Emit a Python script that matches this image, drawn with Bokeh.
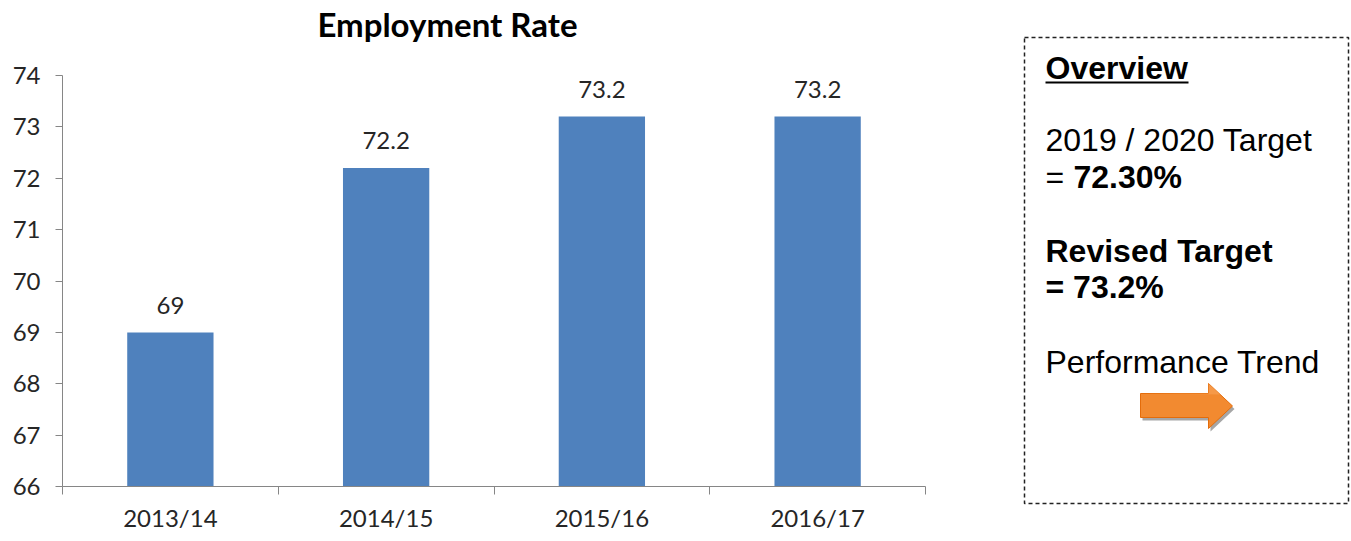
import numpy as np
from bokeh.plotting import figure
from bokeh.models import Range1d, FixedTicker, ColumnDataSource
from bokeh.layouts import row, column
from bokeh.core.properties import value
from bokeh.embed import file_html
from bokeh.resources import INLINE

# ---- data ----
categories = ["2013/14", "2014/15", "2015/16", "2016/17"]
rates = [69, 72.2, 73.2, 73.2]
rate_labels = ["69", "72.2", "73.2", "73.2"]
y_ticks = [66, 67, 68, 69, 70, 71, 72, 73, 74]
title_text = "Employment Rate"

overview_title = "Overview"
target_line = "2019 / 2020 Target"
target_value = "72.30%"
revised_line = "Revised Target"
revised_value = "= 73.2%"
trend_line = "Performance Trend"

BAR = "#4F81BD"
AXIS = "#868686"
TXT = "#262626"
CHART_FONT = "Lato"
BOX_FONT = "Liberation Sans"

H = 535      # total height
HT = 45      # title strip height
W1 = 1000    # chart width
W2 = 350     # overview width

# ---- title strip ----
p0 = figure(width=W1, height=HT, output_backend="svg", toolbar_location=None,
            x_range=Range1d(0, W1), y_range=Range1d(HT, 0),
            min_border=0, outline_line_color=None)
p0.frame_align = False
p0.axis.visible = False
p0.grid.visible = False
p0.text(x=[447], y=[23], text=[title_text], text_font=value(CHART_FONT),
        text_font_size="33px", text_font_style="bold", text_color="#000000",
        text_align="center", text_baseline="alphabetic")

# ---- chart ----
n = len(categories)
xc = np.arange(n) + 0.5
src = ColumnDataSource(dict(x=xc, top=rates, lab=rate_labels))

p1 = figure(width=W1, height=H - HT, output_backend="svg", toolbar_location=None,
            x_range=Range1d(0, n), y_range=Range1d(y_ticks[0], y_ticks[-1]),
            min_border_left=62, min_border_right=W1 - 925, min_border_top=75 - HT,
            min_border_bottom=H - 486)
p1.frame_align = False

p1.vbar(x="x", top="top", bottom=y_ticks[0], width=0.4, source=src,
        fill_color=BAR, line_color=None)
p1.text(x="x", y="top", text="lab", source=src, text_align="center",
        text_baseline="alphabetic", y_offset=-27,
        text_font=value(CHART_FONT), text_font_size="24px", text_color=TXT)

p1.xgrid.visible = False
p1.ygrid.visible = False
p1.outline_line_color = None

xa = p1.xaxis[0]
xa.ticker = FixedTicker(ticks=list(xc), minor_ticks=list(range(n + 1)))
xa.major_label_overrides = {float(v): c for v, c in zip(xc, categories)}
xa.major_tick_line_color = None
xa.minor_tick_line_color = AXIS
xa.minor_tick_out = 8
xa.minor_tick_in = 0
xa.axis_line_color = AXIS
xa.major_label_text_font = CHART_FONT
xa.major_label_text_font_size = "24px"
xa.major_label_text_color = TXT
xa.major_label_standoff = 8

ya = p1.yaxis[0]
ya.ticker = FixedTicker(ticks=y_ticks)
ya.minor_tick_line_color = None
ya.major_tick_out = 7
ya.major_tick_in = 0
ya.major_tick_line_color = AXIS
ya.axis_line_color = AXIS
ya.major_label_text_font = CHART_FONT
ya.major_label_text_font_size = "24px"
ya.major_label_text_color = TXT
ya.major_label_standoff = 15

# ---- overview box ----
X0 = W1  # page x where this panel starts
p2 = figure(width=W2, height=H, output_backend="svg", toolbar_location=None,
            x_range=Range1d(X0, X0 + W2), y_range=Range1d(H, 0),
            min_border=0, outline_line_color=None)
p2.frame_align = False
p2.axis.visible = False
p2.grid.visible = False

p2.quad(left=1024, right=1348, top=37, bottom=503, fill_color=None,
        line_color="#222222", line_width=1.5, line_dash="4 3")

def t(x, y, s, bold=False):
    p2.text(x=[x], y=[y], text=[s], text_font=value(BOX_FONT),
            text_font_size="32px", text_font_style="bold" if bold else "normal",
            text_color="#000000", text_baseline="alphabetic", text_align="left")

t(1045, 67, overview_title, True)
p2.segment(x0=[1045], y0=[82], x1=[1188], y1=[82], line_color="#000000", line_width=2)
t(1045, 139, target_line)
t(1045, 176, "=")
t(1073, 176, target_value, True)
t(1045, 250, revised_line, True)
t(1045, 286, revised_value, True)
t(1045, 361, trend_line)

# arrow (decoration)
ax = [1140, 1208, 1208, 1232, 1208, 1208, 1140]
ay = [393, 393, 383, 405.5, 428, 417, 417]
p2.patch([v + 2 for v in ax], [v + 3 for v in ay], fill_color="#A6A6A6", line_color=None)
p2.patch(ax, ay, fill_color="#F28A30", line_color="#E46C0A", line_width=1)
p2.patch(ax[:3] + [1220], ay[:3] + [394], fill_color="#F8A458", line_color=None, fill_alpha=0.6)

layout = row(column(p0, p1), p2)
open("out.html", "w").write(file_html(layout, INLINE))
